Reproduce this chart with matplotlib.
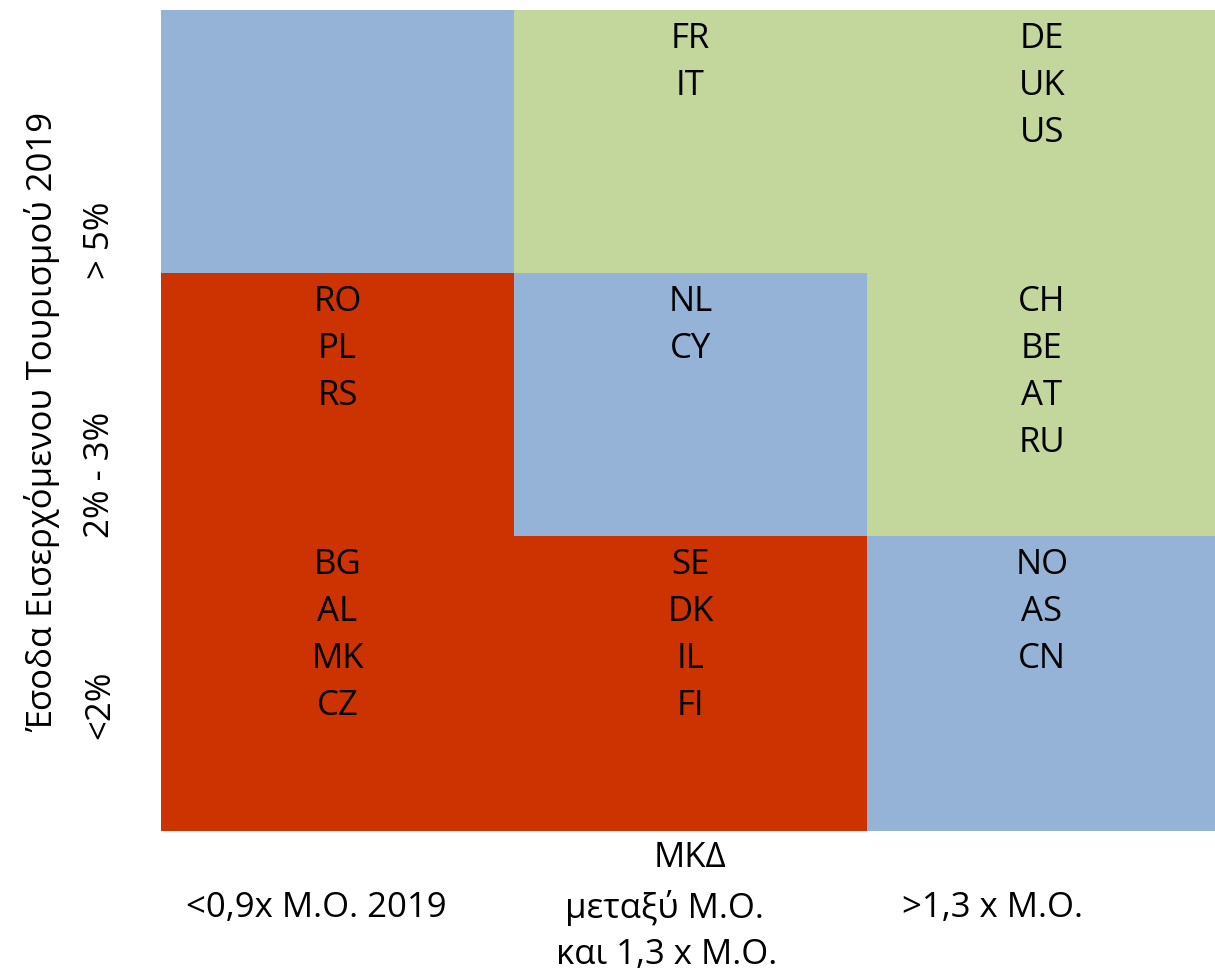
import numpy as np
import matplotlib.pyplot as plt
from matplotlib.colors import ListedColormap

plt.rcParams['font.family'] = ['Open Sans', 'DejaVu Sans']

# grid categories, top row first: 0 = blue, 1 = green, 2 = red
row_labels = ["> 5%", "2% - 3%", "<2%"]
col_labels = ["<0,9x M.O. 2019", "μεταξύ Μ.Ο.\nκαι 1,3 x Μ.Ο.", ">1,3 x M.O."]
cell_class = [
    [0, 1, 1],
    [2, 0, 1],
    [2, 2, 0],
]
cell_countries = [
    [[], ["FR", "IT"], ["DE", "UK", "US"]],
    [["RO", "PL", "RS"], ["NL", "CY"], ["CH", "BE", "AT", "RU"]],
    [["BG", "AL", "MK", "CZ"], ["SE", "DK", "IL", "FI"], ["NO", "AS", "CN"]],
]
colors = ["#95B3D7", "#C3D69B", "#CC3300"]
y_title = "Έσοδα Εισερχόμενου Τουρισμού 2019"
x_title = "ΜΚΔ"

W, H = 1215, 972
fig = plt.figure(figsize=(W / 100, H / 100), dpi=100)
# axes in pixel coordinates of the figure
ax = fig.add_axes([161 / W, 1 - 831 / H, (W - 161) / W, (831 - 10) / H])
x_edges = [161, 514, 867, 1220]
y_edges = [10, 273, 536, 831]
ax.pcolormesh(x_edges, y_edges, np.array(cell_class),
              cmap=ListedColormap(colors), vmin=-0.5, vmax=2.5)
ax.set_xlim(161, W)
ax.set_ylim(831, 10)
ax.axis("off")

fs = 25
for r, row in enumerate(cell_countries):
    for c, codes in enumerate(row):
        xc = (x_edges[c] + x_edges[c + 1]) / 2
        if c == 2:
            xc = 1042
        for i, code in enumerate(codes):
            ax.text(xc, y_edges[r] + 29 + i * 47, code, ha="center", va="center",
                    fontsize=fs, color="black")


def ftext(x, y, s, **kw):
    fig.text(x / W, 1 - y / H, s, fontsize=fs, color="black", **kw)


ftext(42, 422, y_title, rotation=90, ha="center", va="center")
for y, lab in zip([240, 475, 705], row_labels):
    ftext(100, y, lab, rotation=90, ha="center", va="center")

ftext(690, 858, x_title, ha="center", va="center")
ftext(316, 908, col_labels[0], ha="center", va="center")
ftext(664, 908, col_labels[1].split("\n")[0], ha="center", va="center")
ftext(667, 955, col_labels[1].split("\n")[1], ha="center", va="center")
ftext(993, 908, col_labels[2], ha="center", va="center")

fig.savefig("out.png", dpi=100)
